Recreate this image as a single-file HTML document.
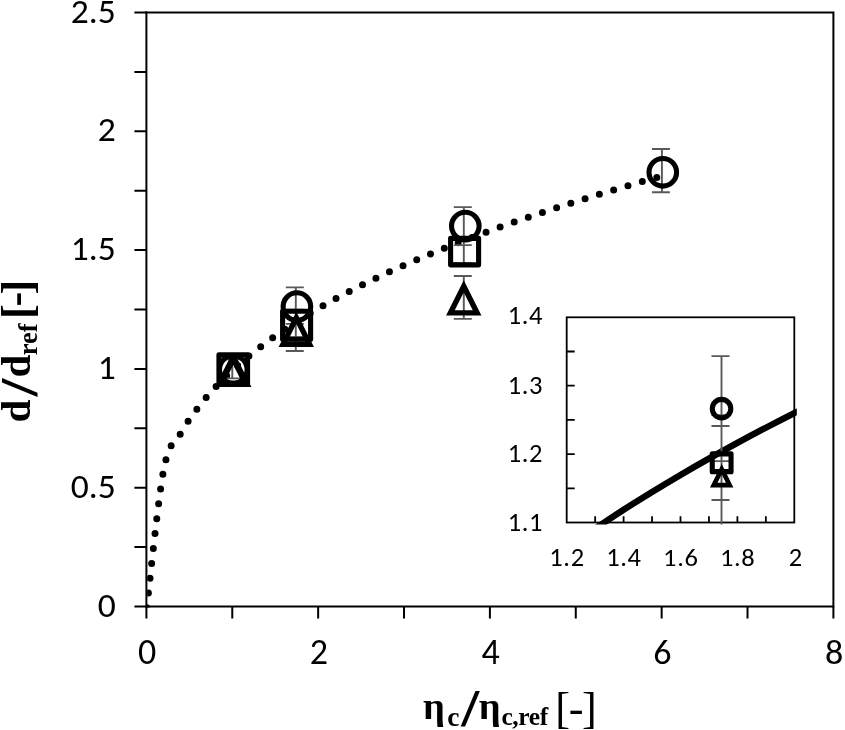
<!DOCTYPE html><html><head><meta charset="utf-8"><title>d/dref vs viscosity ratio</title><style>
html,body{margin:0;padding:0;background:#fff;}
body{width:845px;height:730px;overflow:hidden;}
svg{display:block;}
.tk{font-family:Carlito,"Liberation Sans",sans-serif;fill:#000;}
.tb{font-family:"Liberation Serif","Times New Roman",serif;font-weight:bold;fill:#000;}
.tr{font-family:"Liberation Serif","Times New Roman",serif;font-weight:normal;fill:#000;}
</style></head><body>
<svg width="845" height="730" viewBox="0 0 845 730">
<rect width="845" height="730" fill="#fff"/>
<path d="M146.4 12.5H833.4V606.5" stroke="#000" stroke-width="2" fill="none" stroke-linecap="square"/>
<path d="M146.4 11.5V607.5" stroke="#000" stroke-width="2" fill="none"/>
<path d="M145.4 606.5H833.4" stroke="#000" stroke-width="2" fill="none"/>
<path d="M134.4 606.5H146.4M134.4 547.1H146.4M134.4 487.7H146.4M134.4 428.3H146.4M134.4 368.9H146.4M134.4 309.5H146.4M134.4 250.1H146.4M134.4 190.7H146.4M134.4 131.3H146.4M134.4 71.9H146.4M134.4 12.5H146.4M146.4 606.5V618.5M232.28 606.5V618.5M318.15 606.5V618.5M404.02 606.5V618.5M489.9 606.5V618.5M575.77 606.5V618.5M661.65 606.5V618.5M747.52 606.5V618.5M833.4 606.5V618.5" stroke="#000" stroke-width="2" fill="none"/>
<text class="tk" x="115.8" y="616.5" font-size="35.5" text-anchor="end">0</text>
<text class="tk" x="115.8" y="497.7" font-size="35.5" text-anchor="end">0.5</text>
<text class="tk" x="115.8" y="378.9" font-size="35.5" text-anchor="end">1</text>
<text class="tk" x="115.8" y="260.1" font-size="35.5" text-anchor="end">1.5</text>
<text class="tk" x="115.8" y="141.3" font-size="35.5" text-anchor="end">2</text>
<text class="tk" x="115.8" y="22.5" font-size="35.5" text-anchor="end">2.5</text>
<text class="tk" x="147.2" y="664" font-size="36" text-anchor="middle">0</text>
<text class="tk" x="318.95" y="664" font-size="36" text-anchor="middle">2</text>
<text class="tk" x="490.7" y="664" font-size="36" text-anchor="middle">4</text>
<text class="tk" transform="translate(662.45 664) scale(1 0.962)" x="0" y="0" font-size="36" text-anchor="middle">6</text>
<text class="tk" transform="translate(834.2 664) scale(1 0.95)" x="0" y="0" font-size="36" text-anchor="middle">8</text>
<g transform="rotate(-90)">
<text class="tb" x="-422.5" y="29.8" font-size="41.2">d</text>
<text class="tb" transform="translate(-396.4 36.5) scale(1.2 1)" x="0" y="0" font-size="53.5">/</text>
<text class="tb" x="-377.5" y="29.8" font-size="41.2">d</text>
<text class="tb" x="-355.3" y="36.7" font-size="26.5">ref</text>
<text class="tb" x="-319.1" y="32.3" font-size="44.3">[</text>
<text class="tb" x="-306.4" y="29.8" font-size="44.3">-</text>
<text class="tb" x="-294.4" y="32.3" font-size="44.3">]</text>
</g>
<text class="tb" x="422.9" y="718.8" font-size="38.5">η</text>
<text class="tb" x="447.3" y="725.5" font-size="27.5">c</text>
<text class="tb" transform="translate(461.3 725.7) scale(1.25 1)" x="0" y="0" font-size="51.7">/</text>
<text class="tb" x="478.7" y="718.8" font-size="38.5">η</text>
<text class="tb" x="501.4" y="725.2" font-size="25.5" letter-spacing="-0.4">c,ref</text>
<text class="tr" x="555.3" y="722.5" font-size="44.3" letter-spacing="-1.4">[-]</text>
<clipPath id="pc"><rect x="147.2" y="12" width="687" height="595.6"/></clipPath>
<path d="M146.7 607.8C149.56 584.64 158.15 498.03 163.88 468.85C169.6 439.67 175.33 442.98 181.05 432.73C186.78 422.49 192.5 414.98 198.23 407.4C203.95 399.82 209.68 393.43 215.4 387.23C221.13 381.03 226.85 375.52 232.58 370.2C238.3 364.88 244.03 360.01 249.75 355.31C255.48 350.61 261.2 346.23 266.93 342C272.65 337.76 278.38 333.77 284.1 329.9C289.83 326.03 295.55 322.35 301.28 318.77C307 315.2 312.72 311.78 318.45 308.44C324.18 305.11 329.9 301.91 335.63 298.78C341.35 295.65 347.08 292.63 352.8 289.69C358.52 286.74 364.25 283.88 369.98 281.08C375.7 278.29 381.43 275.57 387.15 272.91C392.88 270.25 398.6 267.66 404.32 265.12C410.05 262.58 415.78 260.1 421.5 257.67C427.23 255.24 432.95 252.86 438.68 250.52C444.4 248.19 450.13 245.9 455.85 243.65C461.58 241.4 467.3 239.2 473.03 237.03C478.75 234.86 484.47 232.73 490.2 230.63C495.93 228.54 501.65 226.48 507.38 224.45C513.1 222.42 518.82 220.43 524.55 218.46C530.27 216.49 536 214.56 541.73 212.65C547.45 210.74 553.17 208.86 558.9 207C564.62 205.14 570.35 203.32 576.07 201.51C581.8 199.7 587.52 197.92 593.25 196.16C598.98 194.4 604.7 192.67 610.42 190.95C616.15 189.24 621.88 187.54 627.6 185.87C633.33 184.19 639.05 182.54 644.77 180.9C650.5 179.27 659.09 176.86 661.95 176.05" fill="none" stroke="#000" stroke-width="7" stroke-linecap="round" stroke-dasharray="0 14.93" clip-path="url(#pc)"/>
<path d="M232.3 359.4V378.4M222.3 359.4H240.3M222.3 378.4H240.3M295.8 287.33V323.83M285.8 287.33H303.8M285.8 323.83H303.8M295.8 311.64V337.3M285.8 311.64H303.8M285.8 337.3H303.8M295.8 309.6V351M285.8 309.6H303.8M285.8 351H303.8M463.8 207.09V245.11M453.8 207.09H471.8M453.8 245.11H471.8M463.8 239.41V263.17M453.8 239.41H471.8M453.8 263.17H471.8M463.8 276V318.9M453.8 276H471.8M453.8 318.9H471.8M661.9 149V192.2M651.9 149H669.9M651.9 192.2H669.9" stroke="#595959" stroke-width="1.9" fill="none"/>
<circle cx="233.3" cy="369.5" r="13.8" stroke="#000" stroke-width="5.1" fill="none"/>
<circle cx="296.9" cy="306.6" r="13.8" stroke="#000" stroke-width="5.1" fill="none"/>
<circle cx="465.3" cy="226.1" r="13.8" stroke="#000" stroke-width="5.1" fill="none"/>
<circle cx="662.8" cy="172.3" r="13.8" stroke="#000" stroke-width="5.1" fill="none"/>
<rect x="218.95" y="354.9" width="28.6" height="29.2" stroke="#000" stroke-width="5.1" fill="none" stroke-linejoin="round"/>
<rect x="282.6" y="311.3" width="28" height="28" stroke="#000" stroke-width="5.1" fill="none" stroke-linejoin="round"/>
<rect x="450.6" y="238.35" width="28" height="26.5" stroke="#000" stroke-width="5.1" fill="none" stroke-linejoin="round"/>
<path d="M233.3 357.9L246.3 383.9L220.3 383.9Z" stroke="#000" stroke-width="6.4" stroke-miterlimit="2.2" fill="none" stroke-linejoin="miter"/>
<path d="M296.3 317.7L309.6 344.3L283 344.3Z" stroke="#000" stroke-width="5.4" fill="none" stroke-linejoin="miter"/>
<path d="M463.75 286.3L477.05 312.9L450.45 312.9Z" stroke="#000" stroke-width="5.4" fill="none" stroke-linejoin="miter"/>
<rect x="566.7" y="317.3" width="227.6" height="205.2" fill="#fff" stroke="#000" stroke-width="1.8"/>
<path d="M566.7 488.3H574.7M566.7 454.1H574.7M566.7 419.9H574.7M566.7 385.7H574.7M566.7 351.5H574.7M595.15 522.5V516.2M623.6 522.5V516.2M652.05 522.5V516.2M680.5 522.5V516.2M708.95 522.5V516.2M737.4 522.5V516.2M765.85 522.5V516.2" stroke="#000" stroke-width="1.8" fill="none"/>
<text class="tk" x="543" y="530.7" font-size="26.5" text-anchor="end" letter-spacing="0.6">1.1</text>
<text class="tk" x="543" y="462.3" font-size="26.5" text-anchor="end" letter-spacing="0.6">1.2</text>
<text class="tk" x="543" y="393.9" font-size="26.5" text-anchor="end" letter-spacing="0.6">1.3</text>
<text class="tk" x="543" y="323.5" font-size="26.5" text-anchor="end" letter-spacing="0.6">1.4</text>
<text class="tk" x="567" y="566.3" font-size="26.5" text-anchor="middle" letter-spacing="0.6">1.2</text>
<text class="tk" x="623.9" y="566.3" font-size="26.5" text-anchor="middle" letter-spacing="0.6">1.4</text>
<text class="tk" transform="translate(680.8 566.3) scale(1 0.962)" x="0" y="0" font-size="26.5" text-anchor="middle" letter-spacing="0.6">1.6</text>
<text class="tk" transform="translate(737.7 566.3) scale(1 0.95)" x="0" y="0" font-size="26.5" text-anchor="middle" letter-spacing="0.6">1.8</text>
<text class="tk" x="795.8" y="566.3" font-size="26.5" text-anchor="middle" letter-spacing="0.6">2</text>
<clipPath id="ic"><rect x="566.7" y="317.3" width="230.1" height="207.2"/></clipPath>
<g clip-path="url(#ic)">
<path d="M566.7 548.04C576.18 541.65 604.63 521.91 623.6 509.72C642.57 497.52 661.53 486.03 680.5 474.89C699.47 463.75 718.43 453.15 737.4 442.85C756.37 432.56 775.33 422.71 794.3 413.11C813.27 403.52 841.72 389.93 851.2 385.3" fill="none" stroke="#000" stroke-width="6.4"/>
<path d="M721.5 356.08V461.15M711.5 356.08H729.5M711.5 461.15H729.5M721.5 426.06V499.93M711.5 426.06H729.5M711.5 499.93H729.5M721.5 415.11V538.23M711.5 415.11H729.5M711.5 538.23H729.5" stroke="#595959" stroke-width="1.9" fill="none"/>
<circle cx="721.55" cy="408.65" r="9.25" stroke="#000" stroke-width="5.1" fill="none"/>
<rect x="712.25" y="453.85" width="18.8" height="17.8" stroke="#000" stroke-width="5.1" fill="none" stroke-linejoin="round"/>
<path d="M721.7 469.15L729.7 485.15L713.7 485.15Z" stroke="#000" stroke-width="4.6" fill="none" stroke-linejoin="miter"/>
</g>
</svg></body></html>
